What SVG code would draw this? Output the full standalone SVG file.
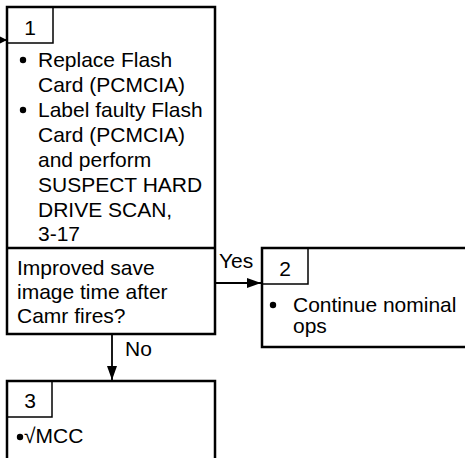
<svg xmlns="http://www.w3.org/2000/svg" width="465" height="458" viewBox="0 0 465 458">
<defs>
<style>
.box{fill:#fff;stroke:#000;stroke-width:2.5}
.lab{fill:none;stroke:#000;stroke-width:1.5}
.t{font-family:"Liberation Sans",Arial,sans-serif;font-size:21px;fill:#000}
.c{stroke:#000;stroke-width:1.8;fill:none}
</style>
<marker id="ah" viewBox="0 0 10 10" refX="10" refY="5" markerWidth="10" markerHeight="10" markerUnits="userSpaceOnUse" orient="auto">
<path d="M0,0 L10,5 L0,10 z" fill="#000"/>
</marker>
<marker id="ahd" viewBox="0 0 14 10" refX="14" refY="5" markerWidth="14" markerHeight="10" markerUnits="userSpaceOnUse" orient="auto">
<path d="M0,0 L14,5 L0,10 z" fill="#000"/>
</marker>
</defs>
<g id="node1">
<rect class="box" x="7" y="7" width="208" height="327"/>
<line class="box" x1="7" y1="248" x2="215" y2="248"/>
<rect class="lab" x="7" y="7" width="46" height="36"/>
<text class="t" x="30" y="35" text-anchor="middle">1</text>
<circle cx="23" cy="60" r="3.2"/>
<text class="t" x="38" y="67">Replace Flash</text>
<text class="t" x="38" y="92">Card (PCMCIA)</text>
<circle cx="23" cy="110" r="3.2"/>
<text class="t" x="38" y="117">Label faulty Flash</text>
<text class="t" x="38" y="142">Card (PCMCIA)</text>
<text class="t" x="38" y="167">and perform</text>
<text class="t" x="38" y="192">SUSPECT HARD</text>
<text class="t" x="38" y="217">DRIVE SCAN,</text>
<text class="t" x="38" y="241">3-17</text>
<text class="t" x="17" y="275">Improved save</text>
<text class="t" x="17" y="299">image time after</text>
<text class="t" x="17" y="323">Camr fires?</text>
</g>
<g id="node2">
<rect class="box" x="262" y="248" width="215" height="99"/>
<rect class="lab" x="262" y="248" width="46" height="36"/>
<text class="t" x="285" y="276" text-anchor="middle">2</text>
<circle cx="273" cy="305" r="3.2"/>
<text class="t" x="293" y="312">Continue nominal</text>
<text class="t" x="293" y="333">ops</text>
</g>
<g id="node3">
<rect class="box" x="7" y="381" width="208" height="90"/>
<rect class="lab" x="7" y="381" width="45" height="36"/>
<text class="t" x="30" y="408" text-anchor="middle">3</text>
<circle cx="20" cy="437" r="3.2"/>
<text class="t" x="24" y="443">√MCC</text>
</g>
<g id="connectors">
<line class="c" x1="0" y1="40" x2="7" y2="40" marker-end="url(#ah)"/>
<line class="c" x1="215" y1="283" x2="261" y2="283" marker-end="url(#ahd)"/>
<text class="t" x="219" y="268">Yes</text>
<line class="c" x1="112" y1="334" x2="112" y2="380" marker-end="url(#ahd)"/>
<text class="t" x="125" y="356">No</text>
</g>
</svg>
